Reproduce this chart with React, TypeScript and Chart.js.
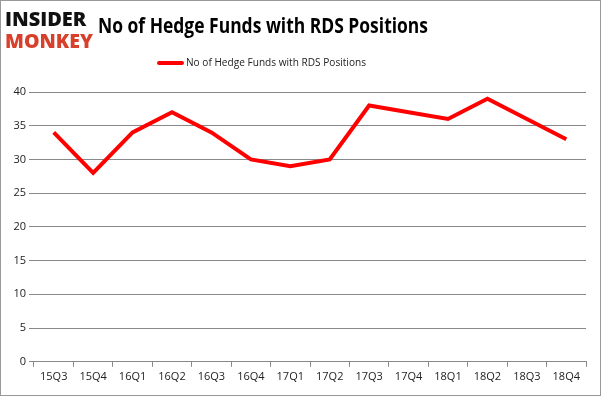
import React, { useEffect, useRef } from "react";
import { Chart, registerables } from "chart.js";

Chart.register(...registerables);

const categories = ["15Q3", "15Q4", "16Q1", "16Q2", "16Q3", "16Q4", "17Q1", "17Q2", "17Q3", "17Q4", "18Q1", "18Q2", "18Q3", "18Q4"];
const hedgeFunds = [34, 28, 34, 37, 34, 30, 29, 30, 38, 37, 36, 39, 36, 33];
const seriesName = "No of Hedge Funds with RDS Positions";
const titleText = "No of Hedge Funds with RDS Positions";

const FONT = "'Open Sans', 'Noto Sans', sans-serif";

export default function App() {
  const ref = useRef<HTMLCanvasElement | null>(null);

  useEffect(() => {
    document.body.style.margin = "0";
    const canvas = ref.current!;
    const overlay = {
      id: "overlay",
      afterDraw(chart: any) {
        const ctx = chart.ctx;
        ctx.save();
        // logo
        ctx.font = `900 20px ${FONT}`;
        ctx.textBaseline = "alphabetic";
        ctx.textAlign = "left";
        ctx.fillStyle = "#111";
        ctx.fillText("INSIDER", 4, 25, 86);
        ctx.fillStyle = "#d8402c";
        ctx.fillText("MONKEY", 4, 47, 88);
        // title
        ctx.fillStyle = "#000";
        ctx.font = `bold 21px ${FONT}`;
        ctx.fillText(titleText, 97, 32, 330);
        // legend
        ctx.strokeStyle = "#ff0000";
        ctx.lineWidth = 4;
        ctx.lineCap = "round";
        ctx.beginPath();
        ctx.moveTo(158, 62);
        ctx.lineTo(181, 62);
        ctx.stroke();
        ctx.fillStyle = "#222";
        ctx.font = `11px ${FONT}`;
        ctx.textBaseline = "middle";
        ctx.fillText(seriesName, 185, 62, 180);
        ctx.restore();
      },
    };
    const chart = new Chart(canvas, {
      type: "line",
      data: {
        labels: categories,
        datasets: [
          {
            label: seriesName,
            data: hedgeFunds,
            borderColor: "#ff0000",
            backgroundColor: "#ff0000",
            borderWidth: 4,
            pointRadius: 0,
            tension: 0,
          },
        ],
      },
      options: {
        animation: false,
        responsive: false,
        maintainAspectRatio: false,
        layout: { padding: { top: 91, right: 14, left: 0, bottom: 9 } },
        plugins: { legend: { display: false }, title: { display: false }, tooltip: { enabled: false } },
        scales: {
          x: {
            offset: true,
            grid: { offset: true, drawOnChartArea: false, drawTicks: true, tickLength: 5, color: "#888" },
            border: { display: true, color: "#888" },
            ticks: { color: "#222", font: { family: FONT, size: 11 }, maxRotation: 0, autoSkip: false, padding: 3 },
          },
          y: {
            min: 0,
            max: 40,
            ticks: { stepSize: 5, color: "#222", font: { family: FONT, size: 11 }, padding: 3 },
            grid: { color: "#888", tickLength: 5, drawTicks: true },
            border: { display: false },
            afterFit(scale: any) {
              scale.width = 33;
            },
          },
        },
      },
      plugins: [overlay],
    });
    return () => chart.destroy();
  }, []);

  return (
    <div style={{ position: "relative", width: 601, height: 396, boxSizing: "border-box", border: "1px solid #999", background: "#fff" }}>
      <canvas ref={ref} width={599} height={394} style={{ display: "block" }} />
    </div>
  );
}
